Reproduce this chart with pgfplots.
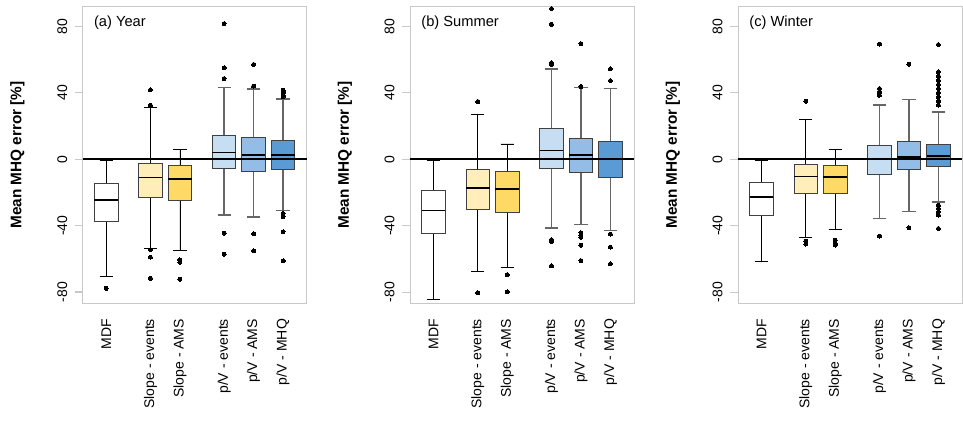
\documentclass[border=0pt]{standalone}
\usepackage{pgfplots}
\pgfplotsset{compat=1.18}
\usepgfplotslibrary{statistics}
\usepackage{fontspec}
\setmainfont{Liberation Sans}
\definecolor{sev}{HTML}{FFEDBA}
\definecolor{sams}{HTML}{FFD966}
\definecolor{pev}{HTML}{C7DDF1}
\definecolor{pams}{HTML}{93BDE6}
\definecolor{pmhq}{HTML}{5B9BD5}
\definecolor{frm}{HTML}{C8C8C8}
\pgfplotsset{sl/.style={/pgfplots/boxplot/every whisker/.style={black,line width=0.5pt}},
pv/.style={/pgfplots/boxplot/every whisker/.style={gray!80!black,line width=1pt}}}
% pos, style+fill, lw, q1, med, q3, uw, outliers
\newcommand{\bx}[8]{\addplot[#2,draw=gray!50!black,line width=0.7pt,
 boxplot prepared={draw direction=y, draw position=#1, lower whisker=#3, lower quartile=#4, median=#5, upper quartile=#6, upper whisker=#7},
 mark=*, mark size=1.5pt, mark options={black,fill=black,line width=0pt}] table[row sep=\\,y index=0] {#8};}
\pgfplotsset{pan/.style={scale only axis, width=168pt, height=223pt,
 xmin=0.2, xmax=7.8, ymin=-87, ymax=92, axis line style={frm},
 xtick={1,2.5,3.5,5,6,7}, xticklabels={MDF,Slope - events,Slope - AMS,p/V - events,p/V - AMS,p/V - MHQ},
 x tick label style={rotate=90,anchor=east,font=\fontsize{10.5}{12}\selectfont},
 xtick style={draw=none}, xticklabel shift=2pt,
 ytick={-80,-40,0,40,80}, y tick label style={rotate=90,anchor=south,font=\fontsize{10.5}{12}\selectfont},
 yticklabel shift=2pt,
 ytick pos=left, xtick pos=bottom,
 /pgf/number format/assume math mode=true,
 tick align=outside, ytick style={frm,line width=0.8pt}, major tick length=6pt,
 ylabel={\bfseries Mean MHQ error [\%]},
 every axis y label/.style={at={(rel axis cs:0,0.5)}, rotate=90, anchor=south, yshift=40pt, font=\fontsize{11.5}{13}\selectfont},
 boxplot/box extend=0.8, boxplot/whisker extend=0.45,
 boxplot/every median/.style={black,line width=1.3pt}, clip=false}}
\newcommand{\zero}{\draw[black,line width=1.1pt] (axis cs:0.2,0) -- (axis cs:7.8,0);}
\begin{document}
\begin{tikzpicture}
\useasboundingbox (0,0) rectangle (722.25pt,324.75pt);
\begin{axis}[pan, at={(62pt,320pt)}, anchor=north west]
\bx{1}{sl,fill=white}{-70.7}{-37.7}{-24.4}{-14.4}{-1}{-77.8\\}
\bx{2.5}{sl,fill=sev}{-53.7}{-23.2}{-11}{-2.8}{31.3}{41.7\\32.5\\-54.5\\-59\\-71.7\\}
\bx{3.5}{sl,fill=sams}{-54.7}{-24.6}{-11.8}{-3.6}{6}{-60.7\\-62\\-72.3\\}
\bx{5}{pv,fill=pev}{-33.7}{-5.6}{4}{14.4}{43.3}{81.6\\55\\48.5\\-44.5\\-57.3\\}
\bx{6}{pv,fill=pams}{-34.9}{-7.2}{2.4}{12.8}{42.3}{57\\44\\-44.9\\-55.3\\}
\bx{7}{pv,fill=pmhq}{-31}{-6.2}{2.6}{11}{36.3}{41.5\\40.5\\39.5\\38.5\\37.5\\-32.7\\-34.7\\-43.7\\-61.3\\}
\zero
\node[anchor=north west,font=\fontsize{11}{13}\selectfont] at (rel axis cs:0.03,0.985) {(a) Year};
\end{axis}
\begin{axis}[pan, at={(307.5pt,320pt)}, anchor=north west]
\bx{1}{sl,fill=white}{-84.4}{-44.9}{-30.9}{-19}{-1}{-200\\}
\bx{2.5}{sl,fill=sev}{-67.7}{-30.5}{-17.4}{-6}{27}{34.7\\-80.4\\}
\bx{3.5}{sl,fill=sams}{-65.3}{-32}{-18}{-7.4}{9.2}{-69.5\\-79.8\\}
\bx{5}{pv,fill=pev}{-41.5}{-5.8}{5.2}{18.6}{54.3}{90.6\\81.2\\57.9\\57.1\\-48.5\\-49.7\\-64.3\\}
\bx{6}{pv,fill=pams}{-39.3}{-8.2}{2.6}{12.6}{43.1}{69.5\\43.7\\-44.3\\-45.7\\-47.1\\-51.9\\-61.1\\}
\bx{7}{pv,fill=pmhq}{-43.1}{-10.8}{0}{10.8}{42.7}{54.3\\47.3\\-45.1\\-52.9\\-63.1\\}
\zero
\node[anchor=north west,font=\fontsize{11}{13}\selectfont] at (rel axis cs:0.03,0.985) {(b) Summer};
\end{axis}
\begin{axis}[pan, at={(553.5pt,320pt)}, anchor=north west]
\bx{1}{sl,fill=white}{-61.5}{-34}{-22.8}{-13.8}{-1}{-200\\}
\bx{2.5}{sl,fill=sev}{-47.3}{-20.8}{-10.4}{-3}{23.8}{34.9\\-49.3\\-51.1\\}
\bx{3.5}{sl,fill=sams}{-42.5}{-20.8}{-10.8}{-3.6}{6}{-48.7\\-50.7\\-51.7\\}
\bx{5}{pv,fill=pev}{-35.7}{-9}{-0.2}{8.4}{32.5}{69.3\\42.5\\40.5\\38.5\\-46.3\\}
\bx{6}{pv,fill=pams}{-31.7}{-6.4}{1.2}{10.8}{35.9}{57.1\\-41.3\\}
\bx{7}{pv,fill=pmhq}{-25.7}{-4.6}{1.8}{9}{28.3}{69\\52.5\\50\\47.5\\45\\42.5\\40\\37.5\\35\\32.5\\-27.7\\-29.7\\-31.7\\-33.7\\-41.7\\}
\zero
\node[anchor=north west,font=\fontsize{11}{13}\selectfont] at (rel axis cs:0.03,0.985) {(c) Winter};
\end{axis}
\end{tikzpicture}
\end{document}
